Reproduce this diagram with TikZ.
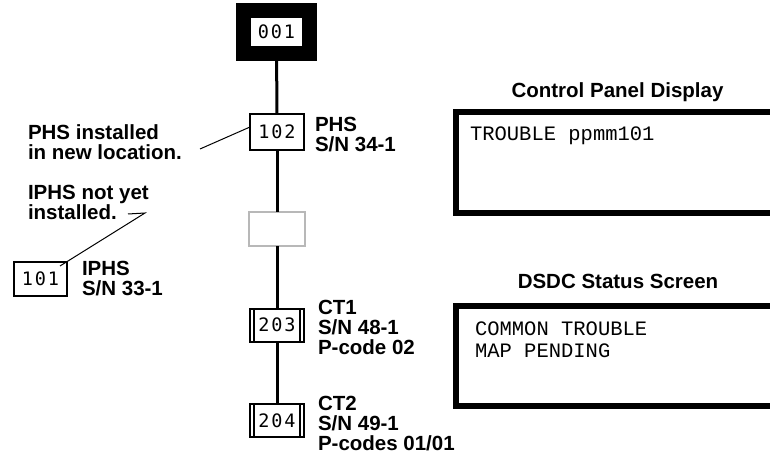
\documentclass[tikz,border=0pt]{standalone}
\usepackage{fontspec}
\setmainfont{Liberation Sans}
\newfontfamily\scrfont{Liberation Mono}
\newfontfamily\numfont[LetterSpace=10]{DejaVu Sans Mono}
\usetikzlibrary{positioning}
\definecolor{stepgray}{HTML}{B8B8B8}

\begin{document}
\begin{tikzpicture}[x=1pt, y=-1pt,
  every node/.style={inner sep=0pt, outer sep=0pt},
  tag/.style={font=\fontsize{20.5}{20}\selectfont\bfseries, align=left, anchor=north west},
  title/.style={font=\fontsize{20.5}{20}\selectfont\bfseries, anchor=base},
  stepbox/.style={draw, line width=2pt, fill=white, minimum width=54pt, minimum height=35pt,
                  font=\numfont\fontsize{18.5}{20}\selectfont},
  topbox/.style={stepbox, line width=15pt, minimum width=66pt, minimum height=43pt},
  emptybox/.style={stepbox, draw=stepgray, line width=2.5pt, minimum width=56pt, minimum height=34pt},
  screen/.style={draw, line width=6pt, minimum width=344pt, anchor=north west},
  scrtext/.style={font=\scrfont\fontsize{20.5}{22}\selectfont, anchor=base west},
  spine/.style={line width=3pt},
  leader/.style={line width=1pt}
]
\clip (0,0) rectangle (770,454);

% step boxes on the spine
\node[topbox] (b001) at (276.5,32) {001};
\node[stepbox, minimum height=36pt] (b102) at (277,132) {102};
\node[emptybox] (gap) at (277,229) {};
\node[stepbox, minimum height=33pt] (b203) at (277,325) {203};
\node[stepbox, minimum height=32.5pt] (b204) at (277,420.5) {204};
\node[stepbox, minimum width=53pt, minimum height=34pt] (b101) at (40.5,279) {101};

\foreach \b in {b203,b204} {
  \draw[line width=1.5pt] ([xshift=3.8pt]\b.north west) -- ([xshift=3.8pt]\b.south west);
  \draw[line width=1.5pt] ([xshift=-3.8pt]\b.north east) -- ([xshift=-3.8pt]\b.south east);
}

\draw[spine] (b001) -- (b102);
\draw[spine] (b102) -- (gap);
\draw[spine] (gap) -- (b203);
\draw[spine] (b203) -- (b204);

% device tags
\node[tag] (t102) at ([xshift=11pt,yshift=-3pt]b102.north east) {PHS\\S/N 34-1};
\node[tag] (t203) at ([xshift=14pt,yshift=8pt]b203.north east) {CT1\\S/N 48-1\\P-code 02};
\node[tag] (t204) at ([xshift=14pt,yshift=8.5pt]b204.north east) {CT2\\S/N 49-1\\P-codes 01/01};
\node[tag] (t101) at ([xshift=15pt,yshift=1pt]b101.north east) {IPHS\\S/N 33-1};

% notes
\node[tag] (nPHS) at (28,125) {PHS installed\\in new location.};
\node[tag] (nIPHS) at (28,185) {IPHS not yet\\installed.};
\coordinate (l102) at (200,149);
\coordinate (d1) at (128,214);
\coordinate (d2) at (145,213);
\draw[leader] (l102) -- ([yshift=5pt]b102.west);
\draw[leader] (d1) -- (d2) -- ([xshift=-7pt,yshift=-4pt]b101.north east);

% displays
\node[title] (cpdtitle) at (617.5,98) {Control Panel Display};
\node[screen, minimum height=101pt] (cpd) at (456,112) {};
\node[scrtext] (cpdtext) at ([xshift=14pt,yshift=-29pt]cpd.north west) {TROUBLE ppmm101};

\node[title] (dsdctitle) at (618,288) {DSDC Status Screen};
\node[screen, minimum height=100pt] (dsdc) at (456,306) {};
\node[scrtext] (dsdc1) at ([xshift=19pt,yshift=-29pt]dsdc.north west) {COMMON TROUBLE};
\node[scrtext] (dsdc2) at ([yshift=-22pt]dsdc1.base west) {MAP PENDING};
\end{tikzpicture}
\end{document}
